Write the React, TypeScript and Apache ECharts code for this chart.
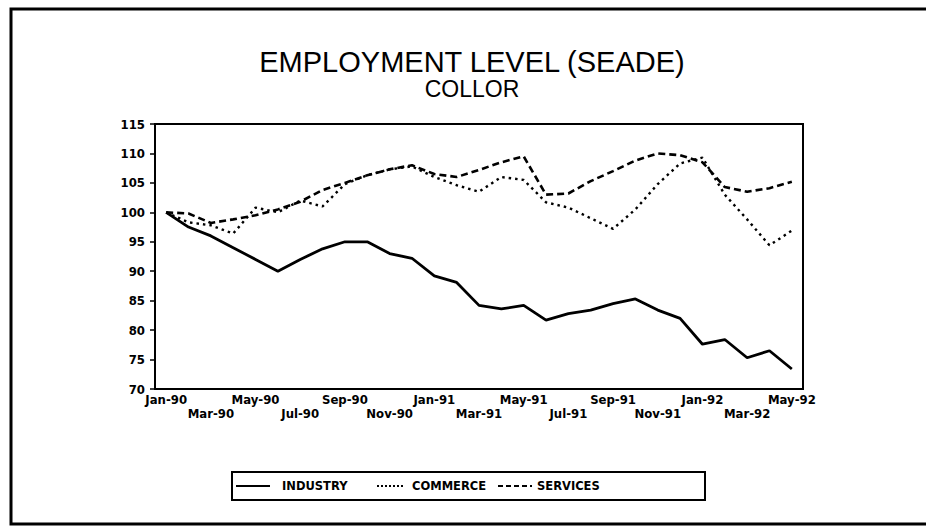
import React, { useEffect, useRef } from "react";
import * as echarts from "echarts";

const months: string[] = [
  "Jan-90", "Feb-90", "Mar-90", "Apr-90", "May-90", "Jun-90", "Jul-90", "Aug-90", "Sep-90", "Oct-90", "Nov-90", "Dec-90",
  "Jan-91", "Feb-91", "Mar-91", "Apr-91", "May-91", "Jun-91", "Jul-91", "Aug-91", "Sep-91", "Oct-91", "Nov-91", "Dec-91",
  "Jan-92", "Feb-92", "Mar-92", "Apr-92", "May-92",
];

const industry: number[] = [
  100, 97.5, 96, 94, 92, 90, 92, 93.8, 95, 95, 93, 92.2,
  89.2, 88.1, 84.2, 83.6, 84.2, 81.7, 82.8, 83.4, 84.5, 85.3, 83.4, 82,
  77.6, 78.4, 75.3, 76.5, 73.4,
];

const commerce: number[] = [
  100, 98.3, 97.8, 96.4, 100.8, 100, 102, 101, 104.8, 106.3, 107.3, 107.8,
  106, 104.6, 103.5, 106, 105.5, 101.7, 100.8, 99, 97.2, 100.5, 104.8, 108.3,
  109.3, 103, 98.8, 94.4, 96.9,
];

const services: number[] = [
  100, 99.8, 98.2, 98.8, 99.5, 100.5, 101.8, 103.8, 105, 106.3, 107.3, 108,
  106.5, 106, 107.2, 108.5, 109.5, 103, 103.2, 105.3, 107, 108.8, 110, 109.7,
  108.5, 104.3, 103.5, 104.1, 105.2,
];

const seriesNames: string[] = ["INDUSTRY", "COMMERCE", "SERVICES"];
const titleText = "EMPLOYMENT LEVEL (SEADE)";
const subtitleText = "COLLOR";
const yMin = 70;
const yMax = 115;
const yStep = 5;

const labelFont = "'DejaVu Sans Condensed', 'DejaVu Sans', sans-serif";
const legendFont = "bold 11.5px 'DejaVu Sans', sans-serif";

export default function App() {
  const ref = useRef<HTMLDivElement>(null);

  useEffect(() => {
    if (!ref.current) return;
    const chart = echarts.init(ref.current, undefined, { renderer: "svg" });

    const xLabelBase = {
      fontFamily: labelFont,
      fontWeight: "bold",
      fontSize: 13,
      lineHeight: 14,
      color: "#000",
      hideOverlap: false,
    };

    const legendY = 486;
    const option: any = {
      animation: false,
      backgroundColor: "#fff",
      grid: {
        left: 155,
        right: 123,
        top: 124,
        bottom: 139,
        show: true,
        borderColor: "#000",
        borderWidth: 2,
        containLabel: false,
      },
      xAxis: [
        {
          type: "category",
          data: months,
          boundaryGap: true,
          position: "bottom",
          axisLine: { lineStyle: { color: "#000", width: 2 } },
          axisTick: { alignWithLabel: true, interval: 1, length: 5, lineStyle: { color: "#000", width: 1.5 } },
          axisLabel: {
            ...xLabelBase,
            margin: 3,
            interval: (index: number) => index % 4 === 0,
            showMinLabel: true,
            showMaxLabel: true,
          },
          splitLine: { show: false },
        },
        {
          type: "category",
          data: months,
          boundaryGap: true,
          position: "bottom",
          offset: 0,
          axisLine: { show: false },
          axisTick: { show: false },
          axisLabel: {
            ...xLabelBase,
            margin: 17,
            interval: (index: number) => index % 4 === 2,
          },
          splitLine: { show: false },
        },
      ],
      yAxis: {
        type: "value",
        min: yMin,
        max: yMax,
        interval: yStep,
        axisLine: { show: true, lineStyle: { color: "#000", width: 2 } },
        axisTick: { show: true, length: 5, lineStyle: { color: "#000", width: 1.5 } },
        axisLabel: {
          margin: 10,
          fontFamily: labelFont,
          fontWeight: "bold",
          fontSize: 13,
          lineHeight: 12,
          color: "#000",
        },
        splitLine: { show: false },
      },
      series: [
        {
          name: seriesNames[0],
          type: "line",
          xAxisIndex: 0,
          data: industry,
          symbol: "none",
          lineStyle: { color: "#000", width: 2.8, type: "solid" },
        },
        {
          name: seriesNames[1],
          type: "line",
          xAxisIndex: 0,
          data: commerce,
          symbol: "none",
          lineStyle: { color: "#000", width: 2.4, type: [2.5, 4] },
        },
        {
          name: seriesNames[2],
          type: "line",
          xAxisIndex: 0,
          data: services,
          symbol: "none",
          lineStyle: { color: "#000", width: 2.6, type: [7, 4] },
        },
      ],
      graphic: [
        {
          type: "rect",
          shape: { x: 11, y: 9, width: 940, height: 515 },
          style: { fill: "none", stroke: "#000", lineWidth: 3 },
          silent: true,
        },
        {
          type: "text",
          x: 472,
          y: 62,
          style: {
            text: titleText,
            fill: "#000",
            font: "29px 'Liberation Sans', Arial, sans-serif",
            align: "center",
            verticalAlign: "middle",
          },
        },
        {
          type: "text",
          x: 472,
          y: 89,
          style: {
            text: subtitleText,
            fill: "#000",
            font: "23px 'Liberation Sans', Arial, sans-serif",
            align: "center",
            verticalAlign: "middle",
          },
        },
        {
          type: "rect",
          shape: { x: 232, y: 472, width: 473, height: 28 },
          style: { fill: "none", stroke: "#000", lineWidth: 2 },
          silent: true,
        },
        {
          type: "line",
          shape: { x1: 236, y1: legendY, x2: 270, y2: legendY },
          style: { stroke: "#000", lineWidth: 2 },
        },
        {
          type: "text",
          x: 282,
          y: legendY,
          style: { text: seriesNames[0], fill: "#000", font: legendFont, verticalAlign: "middle" },
        },
        {
          type: "line",
          shape: { x1: 377, y1: legendY, x2: 403, y2: legendY },
          style: { stroke: "#000", lineWidth: 2, lineDash: [2, 2] },
        },
        {
          type: "text",
          x: 412,
          y: legendY,
          style: { text: seriesNames[1], fill: "#000", font: legendFont, verticalAlign: "middle" },
        },
        {
          type: "line",
          shape: { x1: 498, y1: legendY, x2: 532, y2: legendY },
          style: { stroke: "#000", lineWidth: 2, lineDash: [5, 3] },
        },
        {
          type: "text",
          x: 537,
          y: legendY,
          style: { text: seriesNames[2], fill: "#000", font: legendFont, verticalAlign: "middle" },
        },
      ],
    };

    chart.setOption(option);
    return () => chart.dispose();
  }, []);

  return (
    <div
      ref={ref}
      style={{ position: "absolute", left: 0, top: 0, width: 926, height: 528 }}
    />
  );
}
